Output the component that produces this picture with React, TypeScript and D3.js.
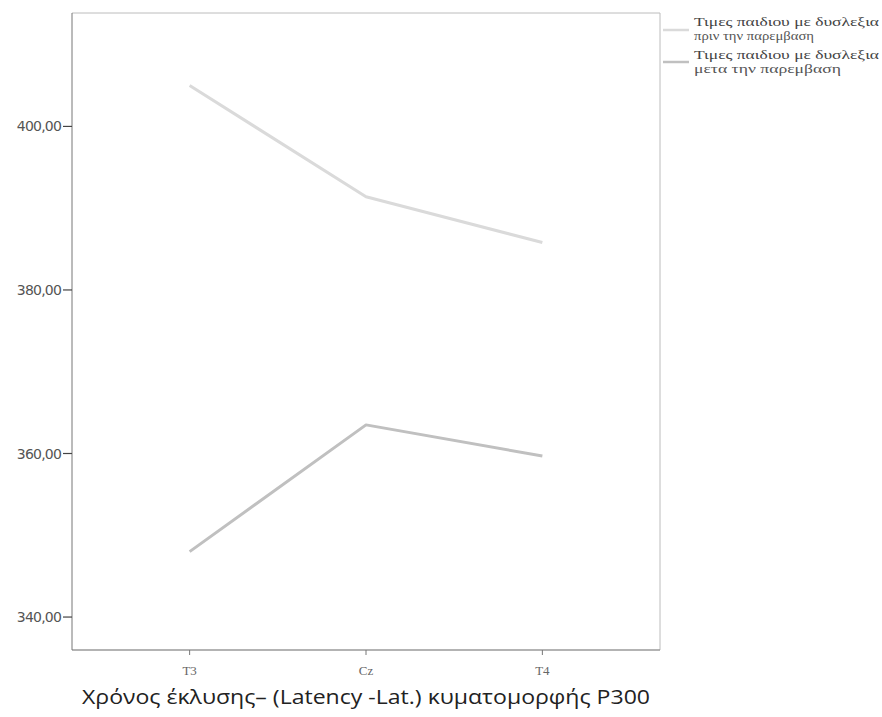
import React from "react";
import * as d3 from "d3";

const categories = ["T3", "Cz", "T4"];
const beforeValues = [405.0, 391.4, 385.8];
const afterValues = [348.0, 363.5, 359.7];
const yTicks = [340, 360, 380, 400];
const seriesLabels = [
  ["Τιμες παιδιου με δυσλεξια", "πριν την παρεμβαση"],
  ["Τιμες παιδιου με δυσλεξια", "μετα την παρεμβαση"],
];
const xTitle = "Χρόνος έκλυσης– (Latency -Lat.) κυματομορφής P300";

const W = 882, H = 717;
const L = 72, R = 660, T = 13, B = 650;

export default function App() {
  const x = d3.scalePoint<string>().domain(categories).range([L, R]).padding(0.667);
  const y = d3.scaleLinear().domain([335.97, 413.87]).range([B, T]);
  const line = d3.line<number>().x((_, i) => x(categories[i])!).y((d) => y(d));
  const colors = ["#dadada", "#c0c0c0"];
  const series = [beforeValues, afterValues];
  const fmt = (v: number) => v.toFixed(2).replace(".", ",");
  const lineWidths = [[185, 120], [185, 147]];
  return (
    <svg width={W} height={H} style={{ position: "absolute", left: 0, top: 0, background: "#fff" }}>
      <rect x={0} y={0} width={W} height={H} fill="#fff" />
      {/* frame */}
      <line x1={L} y1={T} x2={R} y2={T} stroke="#bcbcbc" strokeWidth={1} />
      <line x1={R} y1={T} x2={R} y2={B} stroke="#bcbcbc" strokeWidth={1} />
      <line x1={L} y1={B} x2={R} y2={B} stroke="#9a9a9a" strokeWidth={1.5} />
      <line x1={L} y1={T} x2={L} y2={B} stroke="#777" strokeWidth={1} />
      {yTicks.map((t) => (
        <g key={t}>
          <line x1={L - 9} x2={L} y1={y(t)} y2={y(t)} stroke="#444" strokeWidth={1.2} />
          <text x={L - 11} y={y(t)} dy="0.36em" textAnchor="end" fontFamily="DejaVu Sans" fontSize={14} fill="#555" letterSpacing={-0.8}>
            {fmt(t)}
          </text>
        </g>
      ))}
      {categories.map((c) => (
        <g key={c}>
          <line x1={x(c)} x2={x(c)} y1={B} y2={B + 5} stroke="#777" strokeWidth={1} />
          <text x={x(c)} y={B + 25} textAnchor="middle" fontFamily="Liberation Serif" fontSize={13} fill="#666">
            {c}
          </text>
        </g>
      ))}
      {series.map((s, i) => (
        <path key={i} d={line(s)!} fill="none" stroke={colors[i]} strokeWidth={3} strokeLinejoin="round" />
      ))}
      {seriesLabels.map((lab, i) => (
        <g key={i}>
          <line x1={663} x2={689} y1={30 + i * 32} y2={30 + i * 32} stroke={colors[i]} strokeWidth={2.5} />
          <text x={694} y={26 + i * 33} fontFamily="Liberation Serif" fontSize={13} fill="#444"
            textLength={lineWidths[i][0]} lengthAdjust="spacingAndGlyphs">
            {lab[0]}
          </text>
          <text x={694} y={40 + i * 33} fontFamily="Liberation Serif" fontSize={12} fill="#555"
            textLength={lineWidths[i][1]} lengthAdjust="spacingAndGlyphs">
            {lab[1]}
          </text>
        </g>
      ))}
      <text x={366} y={704} textAnchor="middle" fontFamily="Open Sans" fontSize={20} fill="#222"
        textLength={568} lengthAdjust="spacingAndGlyphs">
        {xTitle}
      </text>
    </svg>
  );
}
